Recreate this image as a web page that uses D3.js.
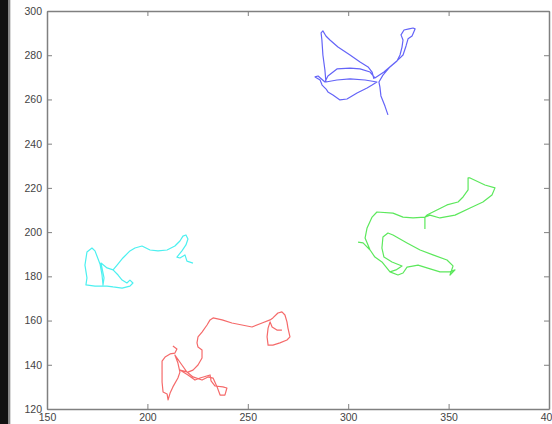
<!DOCTYPE html>
<html>
<head>
<meta charset="utf-8">
<script src="https://cdn.jsdelivr.net/npm/d3@7"></script>
<style>
  html, body { margin: 0; padding: 0; background: #fff; }
  svg { display: block; }
  .tick text { font-family: "Liberation Sans", Arial, sans-serif; font-size: 10.5px; fill: #444; }
</style>
</head>
<body>
<svg id="chart" width="552" height="424"></svg>
<script>
// tracks, [x, y] in data units
var blueTrack = [[319.8,253.0],[318.3,257.0],[316.3,261.6],[315.8,265.6],[315.3,267.9],[317.3,271.0],[320.8,274.7],
  [324.3,277.4],[325.8,280.1],[326.8,283.7],[327.3,286.9],[326.3,289.2],[327.8,291.4],[330.3,291.9],[332.3,292.3],
  [333.3,291.9],[331.8,288.7],[329.8,287.4],[328.8,284.2],[327.3,280.1],[324.8,277.9],[321.3,275.1],[317.8,272.4],
  [313.3,269.7],[310.9,272.4],[305.9,273.8],[300.9,274.2],[294.4,273.8],[289.9,270.6],[288.4,267.9],[285.0,270.6],
  [283.5,270.2],[286.0,268.8],[287.0,266.5],[289.0,264.7],[289.9,263.4],[292.4,262.0],[295.9,259.8],[299.4,260.2],
  [304.4,262.9],[309.4,265.2],[311.9,266.5],[314.3,267.9],[308.4,268.8],[300.9,269.3],[294.4,268.8],[288.9,267.9],
  [288.4,273.3],[287.4,280.1],[286.9,286.9],[286.5,290.1],[287.4,291.0],[288.9,288.7],[290.9,286.9],[294.9,283.7],
  [300.9,280.1],[305.9,276.9],[309.9,274.7],[311.9,272.4],[312.8,269.3]];

var greenTrack = [[304.9,195.5],[307.4,195.1],[310.9,191.9],[313.3,188.7],[316.8,186.5],[320.8,182.0],[324.8,180.6],
  [327.3,181.5],[329.3,184.2],[334.8,185.1],[339.2,183.8],[345.7,182.0],[350.7,182.0],[353.2,182.9],[350.7,180.6],
  [352.2,184.7],[349.2,187.4],[342.2,189.7],[335.8,191.9],[329.3,195.1],[322.3,198.7],[319.8,199.6],[317.3,197.8],
  [316.8,192.8],[317.8,188.7],[321.8,186.5],[324.3,185.6],[326.8,184.7],[323.8,182.9],[320.8,182.0],[316.8,186.5],
  [313.3,188.7],[310.9,191.9],[308.4,197.3],[309.4,201.9],[311.9,206.8],[314.3,209.1],[322.3,208.6],[327.3,206.8],
  [332.3,206.4],[338.2,206.8],[339.2,207.7],[344.2,210.0],[349.2,212.3],[354.7,213.6],[357.2,215.9],[359.7,219.1],
  [359.7,224.5],[360.7,224.5],[368.1,221.3],[373.1,220.0],[371.6,216.8],[367.1,213.6],[360.7,210.9],[353.2,207.7],
  [345.7,206.4],[340.7,207.7],[338.2,206.8],[338.2,204.1],[338.2,201.4]];

var cyanTrack = [[222.7,186.0],[219.7,186.9],[218.7,189.7],[216.2,188.3],[214.7,188.7],[217.2,191.5],[219.2,194.2],
  [220.2,196.9],[219.2,198.7],[217.7,198.2],[216.2,196.0],[213.7,193.7],[209.8,191.9],[205.3,191.5],[201.3,191.9],
  [197.3,193.7],[193.8,192.8],[191.3,191.5],[187.8,188.3],[184.9,185.1],[182.9,182.9],[185.4,180.6],[187.4,178.3],
  [189.8,177.0],[191.3,178.3],[192.8,177.0],[191.3,175.6],[187.4,174.7],[182.9,175.2],[179.9,175.6],[176.4,175.6],
  [173.9,175.6],[169.4,176.1],[169.9,179.3],[168.9,185.1],[169.9,191.0],[172.4,192.8],[173.9,191.5],[176.4,185.6],
  [177.4,180.6],[177.9,176.1],[178.4,179.3],[176.9,186.0],[179.9,183.8],[182.9,182.9]];

var redTrack = [[212.7,148.5],[214.7,147.1],[213.7,145.3],[211.3,144.9],[208.8,143.5],[207.3,141.7],[207.3,136.7],
  [207.3,132.2],[207.8,127.7],[209.8,126.8],[210.3,124.1],[211.3,127.2],[212.7,130.0],[215.2,134.0],[216.2,136.7],
  [215.2,140.8],[213.7,144.4],[217.2,139.9],[219.7,136.7],[222.7,134.5],[227.2,133.1],[230.2,134.5],[232.7,134.0],
  [234.7,130.0],[236.2,126.3],[238.6,126.3],[239.6,129.5],[237.6,130.0],[233.7,130.4],[231.7,132.7],[231.2,135.4],
  [226.2,134.0],[223.7,133.1],[220.2,135.4],[216.2,137.6],[220.2,136.7],[222.7,137.6],[225.2,139.9],[227.2,143.1],
  [227.2,146.7],[225.2,148.0],[224.7,149.9],[225.2,152.6],[227.2,154.8],[229.7,158.0],[231.2,160.3],[232.7,161.2],
  [237.2,160.3],[242.1,158.9],[247.1,158.0],[252.1,157.1],[257.1,158.9],[261.1,160.3],[262.5,161.2],[265.0,163.4],
  [267.0,163.9],[268.5,162.5],[269.5,159.4],[270.0,156.6],[271.0,152.6],[269.5,151.2],[266.0,149.9],[262.5,148.9],
  [260.1,148.9],[259.6,152.6],[260.1,156.6],[261.1,159.4],[262.1,157.1],[264.5,155.7],[267.0,155.7]];

var tracks = [blueTrack, greenTrack, cyanTrack, redTrack];
var trackColors = ["#6464f8", "#5ce85c", "#4cf0f0", "#f56a6a"];

var xTicks = [150, 200, 250, 300, 350, 400];
var yTicks = [120, 140, 160, 180, 200, 220, 240, 260, 280, 300];

var svg = d3.select("#chart");
var plotLeft = 47, plotRight = 549, plotTop = 11, plotBottom = 409;

// dark strip down the left edge of the figure window
svg.append("rect").attr("x", 0).attr("y", 0).attr("width", 8).attr("height", 424).attr("fill", "#111");
svg.append("rect").attr("x", 8).attr("y", 0).attr("width", 2).attr("height", 424).attr("fill", "#888");
svg.append("rect").attr("x", 10).attr("y", 0).attr("width", 1).attr("height", 424).attr("fill", "#d8d8d8");

var sx = d3.scaleLinear().domain([150, 400]).range([plotLeft, plotRight]);
var sy = d3.scaleLinear().domain([120, 300]).range([plotBottom, plotTop]);

var line = d3.line().x(function(d) { return sx(d[0]); }).y(function(d) { return sy(d[1]); });

svg.selectAll("path.track").data(tracks).enter().append("path").attr("class", "track")
   .attr("d", line).attr("fill", "none").attr("stroke-width", 1.2).attr("stroke-linejoin", "round")
   .attr("stroke", function(d, i) { return trackColors[i]; });

// box with inward ticks on all sides
function styleAxis(g) {
  g.selectAll(".domain").attr("stroke", "#808080").attr("stroke-width", 1.5);
  g.selectAll(".tick line").attr("stroke", "#808080");
}

svg.append("g").attr("transform", "translate(0," + plotBottom + ")")
   .call(d3.axisBottom(sx).tickValues(xTicks).tickSizeInner(-5).tickSizeOuter(0).tickPadding(5)).call(styleAxis);
svg.append("g").attr("transform", "translate(0," + plotTop + ")")
   .call(d3.axisTop(sx).tickValues(xTicks).tickSizeInner(-5).tickSizeOuter(0).tickFormat("")).call(styleAxis);
svg.append("g").attr("transform", "translate(" + plotLeft + ",0)")
   .call(d3.axisLeft(sy).tickValues(yTicks).tickSizeInner(-5).tickSizeOuter(0).tickPadding(5)).call(styleAxis);
svg.append("g").attr("transform", "translate(" + plotRight + ",0)")
   .call(d3.axisRight(sy).tickValues(yTicks).tickSizeInner(-5).tickSizeOuter(0).tickFormat("")).call(styleAxis);
</script>
</body>
</html>
